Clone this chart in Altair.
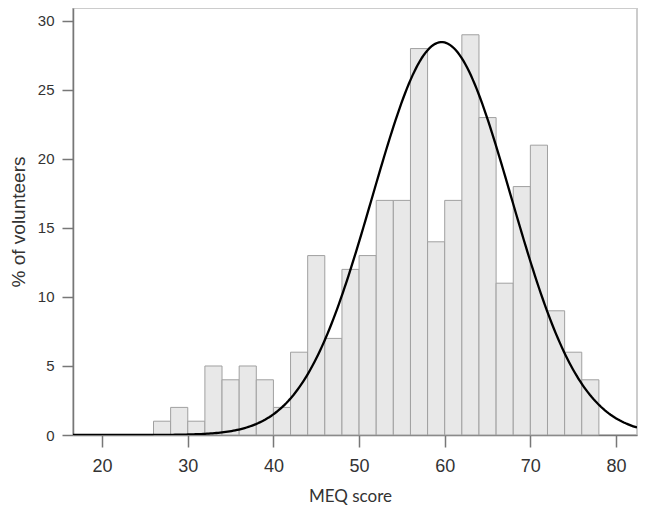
import altair as alt
import numpy as np
import pandas as pd

# Histogram bins (MEQ score) and counts (% of volunteers axis)
bin_start = [26, 28, 30, 32, 34, 36, 38, 40, 42, 44, 46, 48, 50,
             52, 54, 56, 58, 60, 62, 64, 66, 68, 70, 72, 74, 76]
bin_width = 2
counts = [1, 2, 1, 5, 4, 5, 4, 2, 6, 13, 7, 12, 13,
          17, 17, 28, 14, 17, 29, 23, 11, 18, 21, 9, 6, 4]

# Fitted normal curve parameters
fit_mean = 59.65
fit_sd = 8.1
n_total = sum(counts)

x_ticks = [20, 30, 40, 50, 60, 70, 80]
y_ticks = [0, 5, 10, 15, 20, 25, 30]

x_domain = [16.6, 82.45]
y_domain = [0, 30.94]

hist = pd.DataFrame({
    "start": bin_start,
    "end": [s + bin_width for s in bin_start],
    "count": counts,
})

xs = np.linspace(x_domain[0], x_domain[1], 300)
dens = n_total * bin_width / (fit_sd * np.sqrt(2 * np.pi)) * np.exp(-(xs - fit_mean) ** 2 / (2 * fit_sd ** 2))
curve = pd.DataFrame({"x": xs, "y": dens})

xscale = alt.Scale(domain=x_domain, nice=False, zero=False)
yscale = alt.Scale(domain=y_domain, nice=False, zero=True)

xaxis = alt.Axis(
    values=x_ticks, title="MEQ score", grid=False,
    labelFont="Liberation Sans", labelFontSize=18, labelColor="#333333",
    labelPadding=10, tickSize=12, tickColor="#777777", tickWidth=1.5,
    domainColor="#777777", domainWidth=1.5,
    titleFont="Lato", titleFontSize=17, titleFontWeight="normal",
    titleColor="#333333", titlePadding=13, titleX=277,
)
yaxis = alt.Axis(
    values=y_ticks, title="% of volunteers", grid=False,
    labelFont="Liberation Sans", labelFontSize=15, labelColor="#333333",
    labelPadding=8, tickSize=11, tickColor="#777777", tickWidth=1.5,
    domainColor="#777777", domainWidth=1.5,
    titleFont="Liberation Sans", titleFontSize=19, titleFontWeight="normal",
    titleColor="#333333", titlePadding=9,
)

bars = alt.Chart(hist).mark_rect(
    fill="#e8e8e8", stroke="#a0a0a0", strokeWidth=1
).encode(
    x=alt.X("start:Q", scale=xscale, axis=xaxis),
    x2="end:Q",
    y=alt.Y("count:Q", scale=yscale, axis=yaxis),
    y2=alt.datum(0),
)

line = alt.Chart(curve).mark_line(
    color="black", strokeWidth=2.3, clip=True
).encode(
    x=alt.X("x:Q", scale=xscale),
    y=alt.Y("y:Q", scale=yscale),
)

chart = alt.layer(bars, line).properties(
    width=564, height=427,
    autosize=alt.AutoSizeParams(type="none"),
    padding={"left": 65, "top": 0, "right": 1, "bottom": 73},
    background="white",
).configure_view(
    stroke="#cccccc", strokeWidth=2
)

chart.save("out.html", embed_options={"renderer": "svg", "actions": False})
